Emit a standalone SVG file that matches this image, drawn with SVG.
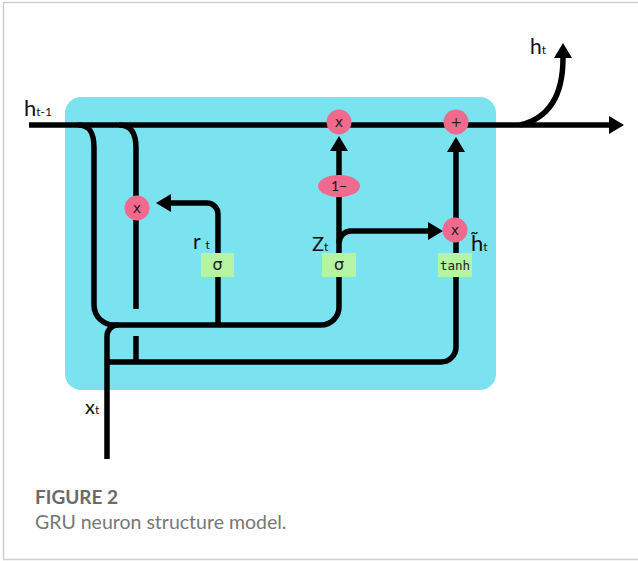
<svg xmlns="http://www.w3.org/2000/svg" width="638" height="561" viewBox="0 0 638 561">
<style>
.ln{fill:none;stroke:#000;stroke-width:5.5;stroke-linecap:butt}
.op{fill:#f2698e}
.gate{fill:#b4f4a3}
.lbl{font-family:Lato,"Open Sans",sans-serif;fill:#111}
.sym{font-family:"DejaVu Sans",sans-serif;fill:#222;text-anchor:middle}
.mono{font-family:"DejaVu Sans Mono","Liberation Mono",monospace;fill:#222;text-anchor:middle}
.cap{font-family:Lato,"Open Sans",sans-serif}
</style>
<defs>
<marker id="ah" markerUnits="userSpaceOnUse" markerWidth="16" markerHeight="18" viewBox="0 0 16 18" refX="0" refY="9" orient="auto">
<path d="M0,0 L15,9 L0,18 z" fill="#000"/>
</marker>
</defs>
<path d="M638,2.5 H3.5 V559.5 H638" fill="none" stroke="#cfcfcf" stroke-width="1.5"/>
<rect id="cell" x="65" y="97" width="431" height="293" rx="16" fill="#7be2f0"/>
<g id="connectors">
<path class="ln" d="M29,125 H609" marker-end="url(#ah)"/>
<path class="ln" d="M520,125 C550,118 563,95 563,58" marker-end="url(#ah)"/>
<path class="ln" d="M78,125 C90,125 94,133 94,148 V305 A20,20 0 0 0 114,325 H321 A18,18 0 0 0 339,307 V151" marker-end="url(#ah)"/>
<path class="ln" d="M119,125 C131,125 136,133 136,148 V309"/>
<path class="ln" d="M136,336 V362"/>
<path class="ln" d="M107,459 V336 A11,11 0 0 1 118,325"/>
<path class="ln" d="M107,362 H441 A15,15 0 0 0 456,347 V152" marker-end="url(#ah)"/>
<path class="ln" d="M218,325 V214 A11,11 0 0 0 207,203 H171" marker-end="url(#ah)"/>
<path class="ln" d="M339,243 A12,12 0 0 1 351,231 H428" marker-end="url(#ah)"/>
</g>
<g id="mul-z">
<circle class="op" cx="339" cy="122" r="12.5"/>
<text class="sym" x="339" y="127" font-size="14">x</text>
</g>
<g id="add">
<circle class="op" cx="456" cy="122" r="12.5"/>
<text class="sym" x="456" y="127" font-size="14">+</text>
</g>
<g id="mul-r">
<circle class="op" cx="137" cy="208" r="12.5"/>
<text class="sym" x="137" y="213" font-size="14">x</text>
</g>
<g id="mul-h">
<circle class="op" cx="455" cy="230" r="12.5"/>
<text class="sym" x="455" y="235" font-size="14">x</text>
</g>
<g id="one-minus">
<ellipse class="op" cx="339" cy="186" rx="21" ry="11"/>
<text class="lbl" x="339" y="191" font-size="14" text-anchor="middle">1−</text>
</g>
<g id="sigma-r">
<rect class="gate" x="201" y="253" width="33" height="24"/>
<text class="sym" x="217.5" y="270" font-size="16">σ</text>
</g>
<g id="sigma-z">
<rect class="gate" x="322" y="253" width="34" height="24"/>
<text class="sym" x="339" y="270" font-size="16">σ</text>
</g>
<g id="tanh">
<rect class="gate" x="438" y="253" width="34" height="24"/>
<text class="mono" x="455" y="270" font-size="12.5">tanh</text>
</g>
<g id="labels">
<text class="lbl" x="24" y="116" font-size="22">h<tspan font-size="12">t-1</tspan></text>
<text class="lbl" x="530" y="54" font-size="21">h<tspan font-size="12">t</tspan></text>
<text class="lbl" x="193" y="249" font-size="21">r <tspan font-size="12">t</tspan></text>
<text class="lbl" x="312" y="251" font-size="20">Z<tspan font-size="12">t</tspan></text>
<text class="lbl" x="471" y="251" font-size="22">h̃<tspan font-size="12">t</tspan></text>
<text class="lbl" x="85" y="414" font-size="20">x<tspan font-size="12">t</tspan></text>
</g>
<g id="caption">
<text class="cap" x="35" y="504" font-size="19" font-weight="bold" fill="#6a6a6a">FIGURE 2</text>
<text class="cap" x="35" y="529" font-size="19.5" fill="#777">GRU neuron structure model.</text>
</g>
</svg>
